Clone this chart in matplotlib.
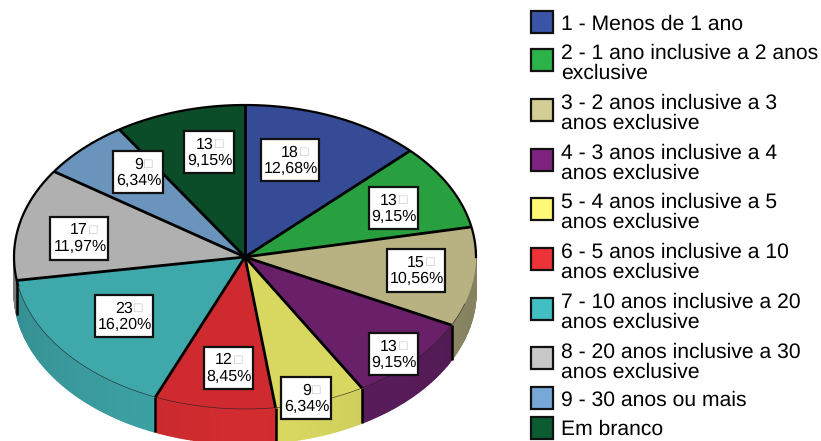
import numpy as np
import matplotlib
matplotlib.use("Agg")
import matplotlib.pyplot as plt
from matplotlib.patches import Polygon, Rectangle

plt.rcParams["text.hinting"] = "no_hinting"

categories = ["1 - Menos de 1 ano", "2 - 1 ano inclusive a 2 anos\nexclusive",
              "3 - 2 anos inclusive a 3\nanos exclusive", "4 - 3 anos inclusive a 4\nanos exclusive",
              "5 - 4 anos inclusive a 5\nanos exclusive", "6 - 5 anos inclusive a 10\nanos exclusive",
              "7 - 10 anos inclusive a 20\nanos exclusive", "8 - 20 anos inclusive a 30\nanos exclusive",
              "9 - 30 anos ou mais", "Em branco"]
counts = [18, 13, 15, 13, 9, 12, 23, 17, 9, 13]
percents = ["12,68%", "9,15%", "10,56%", "9,15%", "6,34%", "8,45%", "16,20%", "11,97%", "6,34%", "9,15%"]
top_colors = ["#354B96", "#28A03F", "#B8B283", "#6A2068", "#D8D75F", "#CE2A30", "#3FA8AB", "#B0B0B0", "#6A94BB", "#0A4D28"]
side_colors = ["#354B96", "#28A03F", "#9C9770", "#5E1E60", "#DCDB62", "#D32C30", "#3FA8AB", "#8A8A8A", "#6A94BB", "#0A4D28"]
legend_colors = ["#3A55A8", "#2BB34A", "#D2CE94", "#7E2480", "#FFF978", "#EE3338", "#42BFC2", "#C8C8C8", "#77A8D8", "#0B5C30"]
legend_box_y = [22, 60, 110, 160, 209, 259, 309, 358, 398, 428]
legend_text_y = [24, 63, 113, 163, 212, 262, 312, 362, 400, 429]
label_boxes = [(261, 139, 319, 181), (369, 187, 418, 229), (387, 249, 445, 292), (369, 333, 418, 375),
               (281, 377, 331, 419), (204, 347, 253, 389), (95, 295, 153, 337), (50, 217, 108, 260),
               (113, 151, 163, 193), (184, 131, 234, 173)]

W, H = 821, 441
CX, CY, RX, RY, DEPTH = 245, 257, 231, 152, 35
FAM = ["Liberation Sans", "DejaVu Sans"]
PX = 72 / 100

fig = plt.figure(figsize=(W / 100, H / 100), dpi=100)
ax = fig.add_axes([0, 0, 1, 1])
ax.set_xlim(0, W)
ax.set_ylim(H, 0)
ax.axis("off")


def pt(theta, dy=0.0):
    return CX + RX * np.sin(theta), CY - RY * np.cos(theta) + dy


def shade(hex_color, f):
    rgb = np.array(matplotlib.colors.to_rgb(hex_color))
    return tuple(np.clip(rgb * f, 0, 1))


edges = np.concatenate([[0], np.cumsum(counts)]) / sum(counts) * 2 * np.pi

# side wall
for i in range(len(counts)):
    a, b = edges[i], edges[i + 1]
    ts = np.linspace(a, b, max(int((b - a) * 90), 2))
    for t0, t1 in zip(ts[:-1], ts[1:]):
        tm = (t0 + t1) / 2
        if not (np.pi * 0.5 - 0.05 < tm < np.pi * 1.5 + 0.05):
            continue
        f = 0.86 + 0.14 * np.clip(1 - abs(tm - np.pi) / (np.pi * 0.42), 0, 1)
        c = shade(side_colors[i], f)
        x0, y0 = pt(t0)
        x1, y1 = pt(t1)
        ax.add_patch(Polygon([(x0, y0), (x1, y1), (x1, y1 + DEPTH), (x0, y0 + DEPTH)], closed=True,
                             fc=c, ec=c, lw=1.0, zorder=1))

# side dividing lines
for e in edges[1:-1]:
    if np.pi * 0.5 < e < np.pi * 1.5:
        x, y = pt(e)
        ax.plot([x, x], [y, y + DEPTH], color="black", lw=1.8, zorder=2, solid_capstyle="butt")

# top faces
for i in range(len(counts)):
    ts = np.linspace(edges[i], edges[i + 1], 80)
    xs, ys = pt(ts)
    ax.add_patch(Polygon(np.column_stack([np.r_[CX, xs], np.r_[CY, ys]]), closed=True,
                         fc=top_colors[i], ec="none", zorder=3))

# outline of the back half and thin front edge
tb = np.linspace(-np.pi * 0.56, np.pi * 0.5, 200)
ax.plot(*pt(tb), color="black", lw=1.6, zorder=4)
tf = np.linspace(np.pi * 0.6, np.pi * 1.44, 200)
ax.plot(*pt(tf), color="#222222", lw=0.4, zorder=4)

# radial lines
for e in edges[:-1]:
    x, y = pt(e)
    ax.plot([CX, x], [CY, y], color="black", lw=2.0, zorder=5, solid_capstyle="butt")

# value labels
for count, pct, (x0, y0, x1, y1) in zip(counts, percents, label_boxes):
    ax.add_patch(Rectangle((x0, y0), x1 - x0, y1 - y0, fc="white", ec="#111111", lw=1.6, zorder=6))
    ax.text(x1 - 20, y0 + 17.5, str(count), ha="right", va="baseline", fontsize=16 * PX, family=FAM, color="black", zorder=7)
    ax.text(x1 - 19, y0 + 17.5, "\u25a1", ha="left", va="baseline", fontsize=14 * PX, family=FAM, color="#BBBBBB", zorder=7)
    ax.text(x1 - 1, y0 + 33.5, pct, ha="right", va="baseline", fontsize=16 * PX, family=FAM, color="black", zorder=7)

# legend
for label, color, by, ty in zip(categories, legend_colors, legend_box_y, legend_text_y):
    ax.add_patch(Rectangle((531, by - 11), 22, 22, fc=color, ec="#111111", lw=1.6, zorder=6))
    ax.text(561, ty, label, ha="left", va="center", fontsize=21.2 * PX, family=FAM, color="black",
            linespacing=1.03, zorder=7)

fig.savefig("out.png", dpi=100)
